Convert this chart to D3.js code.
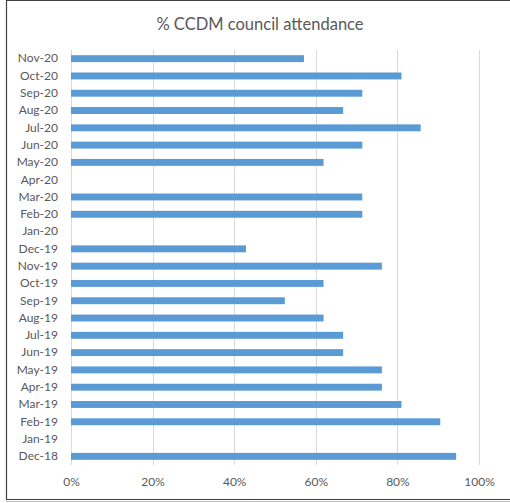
<!DOCTYPE html>
<html>
<head>
<meta charset="utf-8">
<script src="https://cdn.jsdelivr.net/npm/d3@7"></script>
<style>
  html, body { margin: 0; padding: 0; background: #fff; }
  svg { display: block; }
</style>
</head>
<body>
<script>
// Monthly council attendance, newest first (null = no meeting held)
const months = ["Nov-20","Oct-20","Sep-20","Aug-20","Jul-20","Jun-20","May-20","Apr-20",
  "Mar-20","Feb-20","Jan-20","Dec-19","Nov-19","Oct-19","Sep-19","Aug-19","Jul-19",
  "Jun-19","May-19","Apr-19","Mar-19","Feb-19","Jan-19","Dec-18"];
const attendance = [0.571, 0.810, 0.714, 0.667, 0.857, 0.714, 0.619, null,
  0.714, 0.714, null, 0.429, 0.762, 0.619, 0.524, 0.619, 0.667,
  0.667, 0.762, 0.762, 0.810, 0.905, null, 0.944];
const xTicks = [0, 0.2, 0.4, 0.6, 0.8, 1.0];
const chartTitle = "% CCDM council attendance";

const W = 510, H = 503;
const margin = { top: 50, left: 71, right: 31, bottom: 38 };
const font = "Lato, 'Open Sans', sans-serif";

const svg = d3.select("body").append("svg").attr("width", W).attr("height", H);

// chart frame
svg.append("path")
  .attr("d", `M${W + 5},0.5 H6.5 V499.5 H${W + 5}`)
  .attr("fill", "none").attr("stroke", "#404040").attr("stroke-width", 1.2);
svg.append("line").attr("x1", 6).attr("x2", W).attr("y1", 501.5).attr("y2", 501.5)
  .attr("stroke", "#bfbfbf");

const x = d3.scaleLinear().domain([0, 1]).range([margin.left, W - margin.right]);
const y = d3.scaleBand().domain(months).range([margin.top, H - margin.bottom])
  .paddingInner(0.6).paddingOuter(0.3);

// vertical gridlines
svg.append("g").selectAll("line").data(xTicks).join("line")
  .attr("x1", d => Math.round(x(d)) + 0.5).attr("x2", d => Math.round(x(d)) + 0.5)
  .attr("y1", margin.top).attr("y2", H - margin.bottom)
  .attr("stroke", "#d9d9d9").attr("stroke-width", 1);

// bars
svg.append("g").selectAll("rect")
  .data(months.map((c, i) => ({ c, v: attendance[i] })).filter(d => d.v != null))
  .join("rect")
  .attr("x", x(0)).attr("y", d => y(d.c))
  .attr("width", d => x(d.v) - x(0)).attr("height", y.bandwidth())
  .attr("fill", "#5b9bd5");

// category axis labels
const gy = svg.append("g").attr("transform", `translate(${margin.left},0)`)
  .call(d3.axisLeft(y).tickSize(0).tickPadding(13));
gy.select(".domain").remove();
gy.selectAll("text").attr("fill", "#595959").style("font-family", font).style("font-size", "12px");

// value axis labels
const gx = svg.append("g").attr("transform", `translate(0,${H - margin.bottom})`)
  .call(d3.axisBottom(x).tickValues(xTicks).tickFormat(d3.format(".0%")).tickSize(0).tickPadding(12));
gx.select(".domain").remove();
gx.selectAll("text").attr("fill", "#595959").style("font-family", font).style("font-size", "12px");

// title
svg.append("text").attr("x", (margin.left + W - margin.right) / 2 - 15).attr("y", 30)
  .attr("text-anchor", "middle").attr("fill", "#595959")
  .style("font-family", font).style("font-size", "16.5px")
  .text(chartTitle);
</script>
</body>
</html>
